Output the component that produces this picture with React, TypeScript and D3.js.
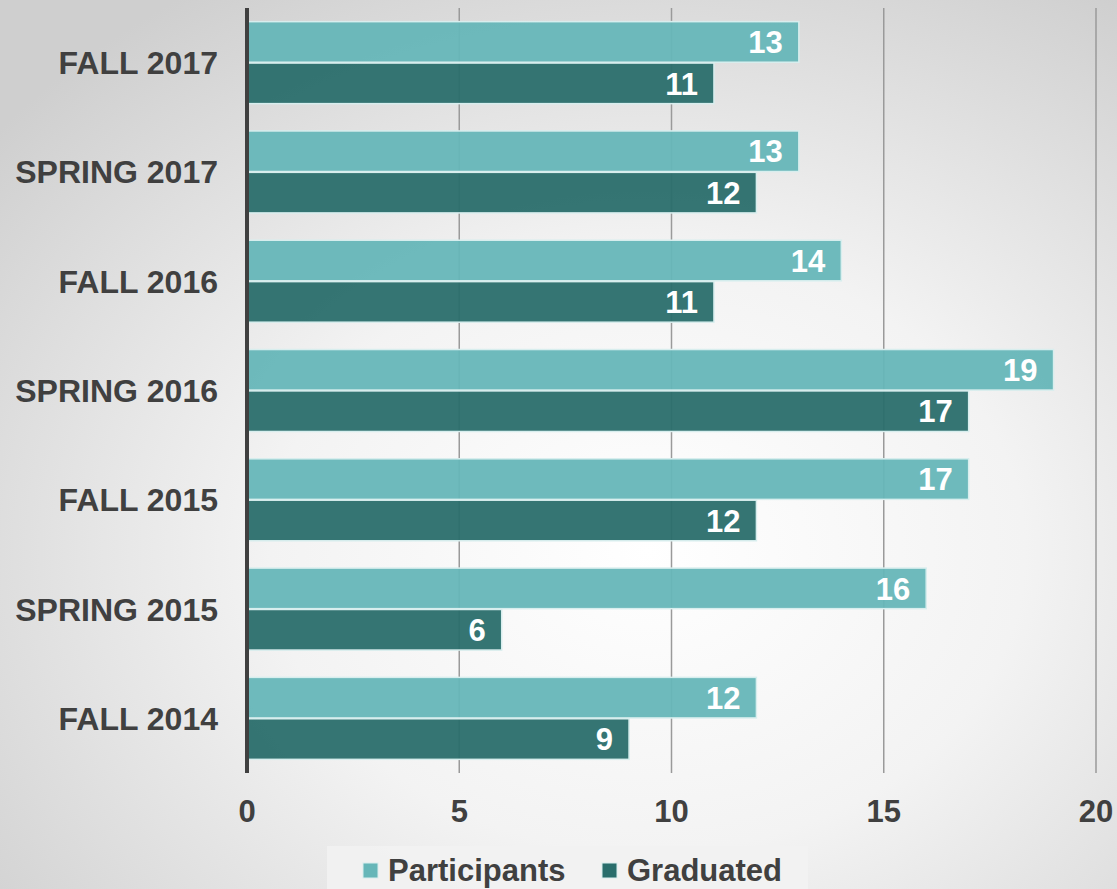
import React from "react";
import * as d3 from "d3";

const categories = ["FALL 2017", "SPRING 2017", "FALL 2016", "SPRING 2016", "FALL 2015", "SPRING 2015", "FALL 2014"];
const participants = [13, 13, 14, 19, 17, 16, 12];
const graduated = [11, 12, 11, 17, 12, 6, 9];
const xTicks = [0, 5, 10, 15, 20];
const seriesNames = ["Participants", "Graduated"];
const seriesColors = ["#66b6b8", "#2a6e6c"];

const W = 1117;
const H = 889;
const FONT = "'Liberation Sans', Arial, sans-serif";

export default function App() {
  const x = d3.scaleLinear().domain([0, 20]).range([247, 1096]);
  const y = d3.scaleBand().domain(categories).range([8, 773]).paddingInner(0.25).paddingOuter(0.125);
  const sub = d3.scaleBand().domain(seriesNames).range([0, y.bandwidth()]).paddingInner(0.02);
  const series = [participants, graduated];

  return (
    <svg width={W} height={H} style={{ position: "absolute", left: 0, top: 0, display: "block" }}>
      <defs>
        <radialGradient id="bg" cx="0.58" cy="0.62" r="0.75">
          <stop offset="0" stopColor="#ffffff" />
          <stop offset="0.45" stopColor="#f3f3f3" />
          <stop offset="1" stopColor="#cfcfcf" />
        </radialGradient>
      </defs>
      <rect x={0} y={0} width={W} height={H} fill="url(#bg)" />
      {xTicks.filter((t) => t > 0).map((t) => (
        <line key={t} x1={x(t)} x2={x(t)} y1={8} y2={773} stroke="#9a9a9a" strokeWidth={1.5} />
      ))}
      {categories.map((c, i) => (
        <g key={c}>
          {series.map((vals, s) => {
            const yy = (y(c) as number) + (sub(seriesNames[s]) as number);
            const h = sub.bandwidth();
            return (
              <g key={s}>
                <rect x={x(0)} y={yy} width={x(vals[i]) - x(0)} height={h} fill={seriesColors[s]} fillOpacity={0.95} stroke="#d8eeee" strokeWidth={1.5} />
                <text x={x(vals[i]) - 16} y={yy + h / 2} dy="0.36em" textAnchor="end" fill="#ffffff" fontFamily={FONT} fontWeight="bold" fontSize={31}>
                  {vals[i]}
                </text>
              </g>
            );
          })}
          <text x={218} y={(y(c) as number) + y.bandwidth() / 2} dy="0.36em" textAnchor="end" fill="#404040" fontFamily={FONT} fontWeight="bold" fontSize={32}>
            {c}
          </text>
        </g>
      ))}
      <line x1={247} x2={247} y1={8} y2={773} stroke="#404040" strokeWidth={4} />
      {xTicks.map((t) => (
        <text key={t} x={x(t)} y={822} textAnchor="middle" fill="#404040" fontFamily={FONT} fontWeight="bold" fontSize={31}>
          {t}
        </text>
      ))}
      <rect x={327} y={846} width={481} height={43} fill="#f2f2f2" fillOpacity={0.9} />
      {seriesNames.map((n, s) => {
        const lx = s === 0 ? 363 : 602;
        return (
          <g key={n}>
            <rect x={lx} y={863} width={15} height={15} fill={seriesColors[s]} stroke="#d8eeee" strokeWidth={1} />
            <text x={lx + 25} y={881} fill="#404040" fontFamily={FONT} fontWeight="bold" fontSize={31}>
              {n}
            </text>
          </g>
        );
      })}
    </svg>
  );
}
